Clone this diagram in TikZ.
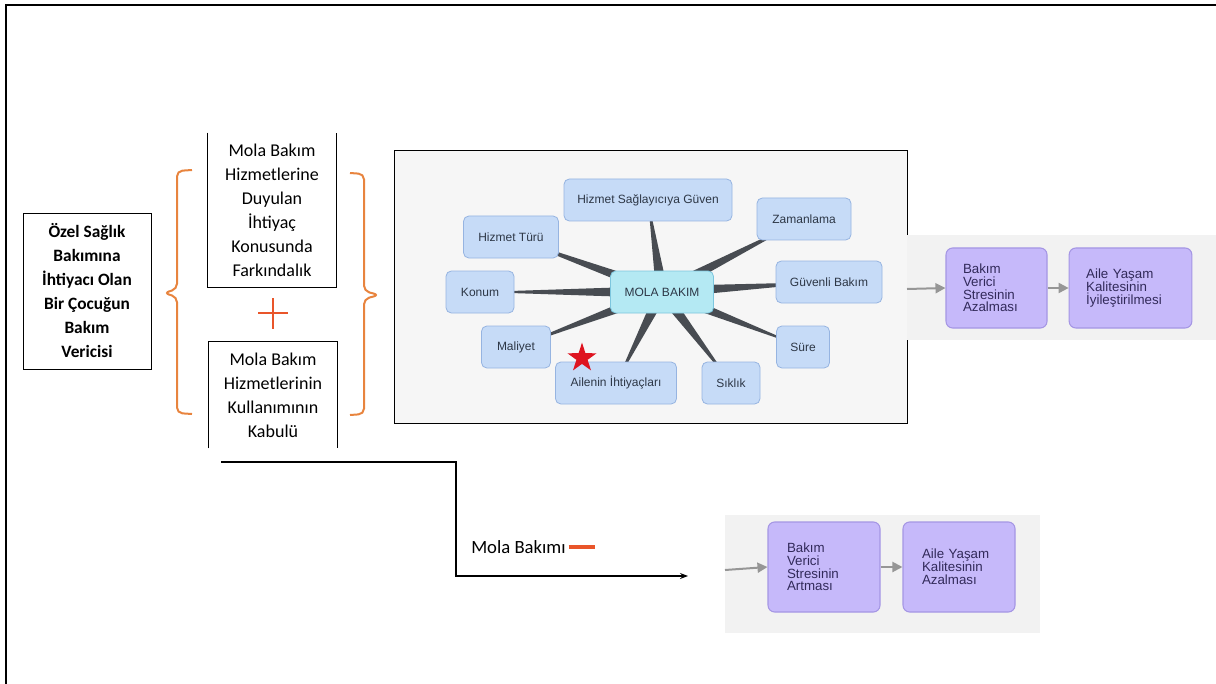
\documentclass[tikz,border=0pt]{standalone}
\usepackage{fontspec}
\setmainfont{Carlito}
\newfontfamily\mapfont{Liberation Sans}
\usetikzlibrary{calc,arrows.meta,positioning,shapes.geometric}
\definecolor{braceOrange}{RGB}{232,132,62}
\definecolor{plusRed}{RGB}{233,85,42}
\definecolor{leafFill}{RGB}{198,219,247}
\definecolor{leafEdge}{RGB}{150,180,225}
\definecolor{hubFill}{RGB}{180,233,243}
\definecolor{hubEdge}{RGB}{125,198,222}
\definecolor{mapText}{RGB}{45,55,70}
\definecolor{spokeGray}{RGB}{72,76,82}
\definecolor{panelGray}{RGB}{246,246,246}
\definecolor{flowPanel}{RGB}{242,242,242}
\definecolor{flowFill}{RGB}{198,185,250}
\definecolor{flowEdge}{RGB}{165,150,228}
\definecolor{flowText}{RGB}{50,42,90}
\definecolor{arrowGray}{RGB}{150,150,150}
\definecolor{starRed}{RGB}{222,20,32}
\pgfdeclarelayer{panel}
\pgfdeclarelayer{spokes}
\pgfsetlayers{panel,spokes,main}

\begin{document}
\begin{tikzpicture}[x=0.75pt,y=-0.75pt,
  carerbox/.style={draw, line width=0.6pt, align=center, inner sep=0pt,
    minimum width=96pt, minimum height=117pt, font=\bfseries\fontsize{13}{18}\selectfont},
  factbox/.style={align=center, inner sep=0pt, minimum width=96pt,
    font=\fontsize{13.5}{18}\selectfont},
  openside/.style={line width=0.6pt},
  bracket/.style={draw=braceOrange, line width=1.5pt, rounded corners=4pt},
  leaf/.style={draw=leafEdge, fill=leafFill, rounded corners=4pt, line width=0.6pt,
    minimum height=31.5pt, inner sep=0pt, text=mapText, font=\mapfont\fontsize{9}{11}\selectfont},
  hub/.style={leaf, draw=hubEdge, fill=hubFill},
  flowbox/.style={draw=flowEdge, fill=flowFill, rounded corners=5pt, line width=0.8pt,
    align=left, inner ysep=0pt, text=flowText, font=\mapfont\fontsize{10}{9.6}\selectfont},
  grayarrow/.style={draw=arrowGray, line width=1.5pt, -{Triangle[length=7.5pt,width=7.5pt]}},
  mainline/.style={line width=1.6pt, -{Stealth[length=6pt,width=4.5pt]}}]
\useasboundingbox (0,0) rectangle (1216,684);
\draw[line width=1.5pt] (6,684) -- (6,5) -- (1216,5);

\node[carerbox] (carer) at (87,291) {Özel Sağlık\\Bakımına\\İhtiyacı Olan\\Bir Çocuğun\\Bakım\\Vericisi};

\draw[bracket] (192,170) -- (177,171) -- (177,289) -- (164,293) -- (177,297) -- (177,413) -- (192,414);
\draw[bracket] (350,173) -- (364,174) -- (364,291) -- (379,295) -- (364,299) -- (364,414) -- (350,415);

\node[factbox, minimum height=115.5pt] (aware) at (272,210)
  {Mola Bakım\\Hizmetlerine\\Duyulan\\İhtiyaç\\Konusunda\\Farkındalık};
\draw[openside] (aware.north west) -- (aware.south west) -- (aware.south east) -- (aware.north east);
\draw[plusRed, line width=2pt] (258,313) -- (288,313) (273,298) -- (273,329);
\node[factbox, minimum height=79.5pt] (accept) at (273,395)
  {Mola Bakım\\Hizmetlerinin\\Kullanımının\\Kabulü};
\draw[openside] (accept.south west) -- (accept.north west) -- (accept.north east) -- (accept.south east);

\begin{pgfonlayer}{panel}
\filldraw[fill=panelGray, line width=0.75pt] (394,151) rectangle (907,423);
\fill[flowPanel] (907,235) rectangle (1216,340);
\fill[flowPanel] (725,515) rectangle (1040,633);
\end{pgfonlayer}

\node[hub, minimum width=77.25pt] (mola) at (662,292) {MOLA BAKIM};
\node[leaf, minimum width=126pt] (hsg) at (648,200) {Hizmet Sağlayıcıya Güven};
\node[leaf, minimum width=70.5pt] (zam) at (804,219) {Zamanlama};
\node[leaf, minimum width=71.25pt] (htu) at (511,237) {Hizmet Türü};
\node[leaf, minimum width=79.5pt] (gbk) at (829,282) {Güvenli Bakım};
\node[leaf, minimum width=51pt] (kon) at (480,292) {Konum};
\node[leaf, minimum width=51.75pt] (mal) at (516,347) {Maliyet};
\node[leaf, minimum width=39.75pt] (sure) at (803,347) {Süre};
\node[leaf, minimum width=90.75pt] (aih) at (616,383) {Ailenin İhtiyaçları};
\node[leaf, minimum width=43.5pt] (sik) at (731,383) {Sıklık};
\begin{pgfonlayer}{spokes}
\foreach \n in {hsg,zam,htu,gbk,kon,mal,sure,aih,sik}{
  \fill[spokeGray] (\n.center) -- ($(mola.center)!4.5pt!90:(\n.center)$)
    -- ($(mola.center)!4.5pt!-90:(\n.center)$) -- cycle;
}
\end{pgfonlayer}
\node[star, star points=5, star point ratio=2.6, fill=starRed, minimum size=23pt, inner sep=0pt] (redstar) at (582,358) {};

\node[flowbox, text width=50.25pt, inner xsep=12.75pt, minimum height=60pt] (lessstress) at (996.5,288)
  {Bakım\\Verici\\Stresinin\\Azalması};
\node[flowbox, text width=66.5pt, inner xsep=12.75pt, minimum height=60pt] (betterlife) at (1130.5,288)
  {Aile Yaşam\\Kalitesinin\\İyileştirilmesi};
\coordinate (topin) at (907,289);
\draw[grayarrow] (topin) -- (lessstress.west);
\draw[grayarrow] (lessstress.east) -- (betterlife.west);

\coordinate (tailstart) at (221,462);
\coordinate (tailend) at (688,576);
\draw[mainline] (tailstart) -| (456,576) -- (tailend);
\node[anchor=west, inner sep=0pt, font=\fontsize{14}{16}\selectfont] (breaklbl) at (471,547) {Mola Bakımı};
\draw[plusRed, line width=2.6pt] ([xshift=2pt]breaklbl.east) -- ++(26,0);

\node[flowbox, text width=55.5pt, inner xsep=14.25pt, minimum height=67.5pt] (morestress) at (824,567)
  {Bakım\\Verici\\Stresinin\\Artması};
\node[flowbox, text width=55.5pt, inner xsep=14.25pt, minimum height=67.5pt] (worselife) at (959,567)
  {Aile Yaşam\\Kalitesinin\\Azalması};
\coordinate (lowin) at (725,570);
\draw[grayarrow] (lowin) -- (morestress.west);
\draw[grayarrow] (morestress.east) -- (worselife.west);
\end{tikzpicture}
\end{document}
